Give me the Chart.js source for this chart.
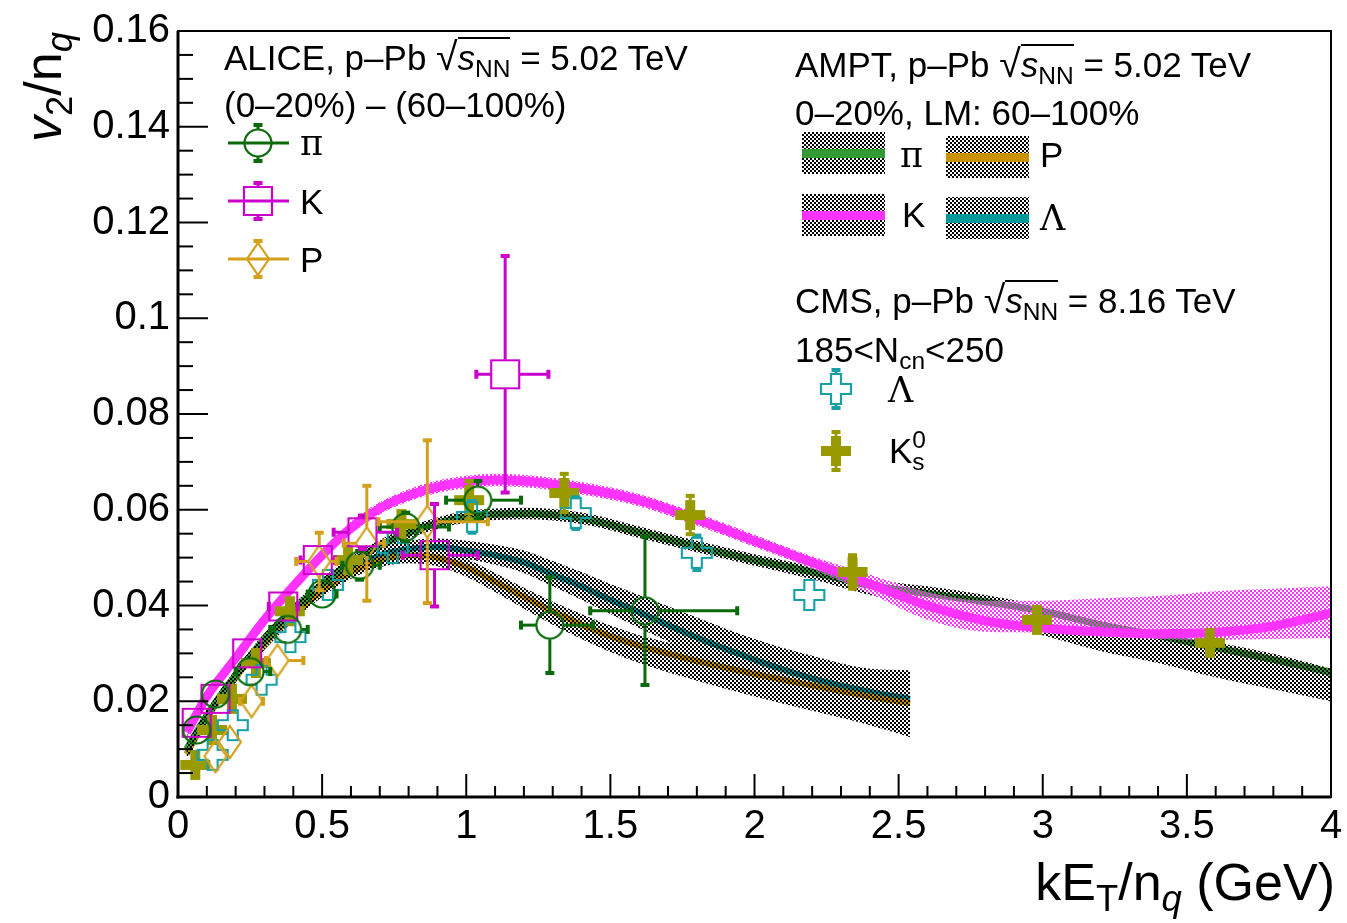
<!DOCTYPE html>
<html>
<head>
<meta charset="utf-8">
<script src="https://cdn.jsdelivr.net/npm/chart.js@4.4.0/dist/chart.umd.min.js"></script>
<style>
  html, body { margin: 0; padding: 0; background: #fff; }
  #wrap { position: relative; width: 1347px; height: 923px; font-family: "Liberation Sans", Arial, sans-serif; color: #000; }
  #wrap canvas { position: absolute; left: 0; top: 0; }
  .t { position: absolute; white-space: nowrap; font-size: 35px; line-height: 50px; }
  .sub { font-size: 0.7em; position: relative; top: 0.3em; line-height: 1; }
  .sup { font-size: 0.7em; position: relative; top: -0.6em; line-height: 1; }
  .gr { font-family: "DejaVu Serif", "Liberation Serif", serif; }
  .root { font-size: 1.12em; line-height: 1; font-family: "DejaVu Sans", sans-serif; font-weight: 200; }
  .rad { display: inline-block; border-top: 2px solid #000; line-height: 1; padding-top: 1px; }
  .big { font-size: 52px; line-height: 70px; }
</style>
</head>
<body>
<div id="wrap">
  <canvas id="c" width="1347" height="923"></canvas>

  <div class="t big" style="left:8px; top:142px; transform-origin:0 0; transform:rotate(-90deg);"><i>v</i><span class="sub">2</span>/n<span class="sub"><i>q</i></span></div>
  <div class="t big" style="right:12px; top:847px;">kE<span class="sub">T</span>/n<span class="sub"><i>q</i></span> (GeV)</div>

  <div class="t" style="left:224px; top:33px;">ALICE, p–Pb <span class="root">√</span><span class="rad"><i>s</i><span class="sub">NN</span></span> = 5.02 TeV</div>
  <div class="t" style="left:224px; top:80px;">(0–20%) – (60–100%)</div>
  <div class="t gr" style="left:300px; top:118px;">π</div>
  <div class="t" style="left:300px; top:177px;">K</div>
  <div class="t" style="left:300px; top:235px;">P</div>

  <div class="t" style="left:795px; top:40px;">AMPT, p–Pb <span class="root">√</span><span class="rad"><i>s</i><span class="sub">NN</span></span> = 5.02 TeV</div>
  <div class="t" style="left:795px; top:88px;">0–20%, LM: 60–100%</div>
  <div class="t gr" style="left:900px; top:130px;">π</div>
  <div class="t" style="left:1040px; top:130px;">P</div>
  <div class="t" style="left:902px; top:190px;">K</div>
  <div class="t gr" style="left:1040px; top:193px;">Λ</div>

  <div class="t" style="left:795px; top:276px;">CMS, p–Pb <span class="root">√</span><span class="rad"><i>s</i><span class="sub">NN</span></span> = 8.16 TeV</div>
  <div class="t" style="left:795px; top:325px;">185&lt;N<span class="sub">cn</span>&lt;250</div>
  <div class="t gr" style="left:888px; top:365px;">Λ</div>
  <div class="t" style="left:889px; top:426px;">K<span class="sup">0</span><span class="sub" style="margin-left:-0.56em">s</span></div>
</div>

<script>
// ALICE p-Pb, (0-20%) - (60-100%)
const aliPiX   = [0.065, 0.13, 0.25, 0.38, 0.50, 0.63, 0.79, 1.04, 1.29, 1.62];
const aliPiY   = [0.0140, 0.0215, 0.0262, 0.0350, 0.0424, 0.0484, 0.0564, 0.0620, 0.0359, 0.0389];
const aliPiErr = [0.0015, 0.0015, 0.0018, 0.0020, 0.0022, 0.0030, 0.0030, 0.0040, 0.0100, 0.0155];
const aliPiXlo = [0.02, 0.02, 0.05, 0.06, 0.05, 0.06, 0.09, 0.11, 0.10, 0.19];
const aliPiXhi = [0.02, 0.02, 0.07, 0.07, 0.05, 0.07, 0.15, 0.15, 0.15, 0.32];

const aliKX   = [0.065, 0.13, 0.24, 0.365, 0.485, 0.64, 0.89, 1.135];
const aliKY   = [0.0155, 0.0205, 0.0300, 0.0398, 0.0495, 0.0553, 0.0505, 0.0883];
const aliKErr = [0.0015, 0.0015, 0.0018, 0.0020, 0.0025, 0.0035, 0.0107, 0.0247];
const aliKXlo = [0.02, 0.03, 0.04, 0.05, 0.06, 0.10, 0.11, 0.10];
const aliKXhi = [0.02, 0.03, 0.04, 0.05, 0.06, 0.12, 0.15, 0.15];

const aliPX   = [0.13, 0.18, 0.255, 0.345, 0.49, 0.655, 0.865];
const aliPY   = [0.0085, 0.0115, 0.0200, 0.0285, 0.0492, 0.0530, 0.0575];
const aliPErr = [0.0020, 0.0020, 0.0025, 0.0030, 0.0060, 0.0120, 0.0170];
const aliPXlo = [0.03, 0.03, 0.04, 0.04, 0.08, 0.08, 0.17];
const aliPXhi = [0.03, 0.03, 0.04, 0.09, 0.06, 0.06, 0.21];

// CMS p-Pb 8.16 TeV, 185 < Ncn < 250
const cmsLamX   = [0.12, 0.19, 0.29, 0.39, 0.52, 0.745, 1.02, 1.38, 1.80, 2.19];
const cmsLamY   = [0.0088, 0.0150, 0.0245, 0.0334, 0.0443, 0.0520, 0.0585, 0.0593, 0.0510, 0.0422];
const cmsLamErr = [0.0010, 0.0010, 0.0012, 0.0015, 0.0020, 0.0025, 0.0033, 0.0033, 0.0036, 0.0020];

const cmsKsX   = [0.06, 0.118, 0.187, 0.27, 0.388, 0.59, 0.775, 1.01, 1.34, 1.777, 2.34, 2.98, 3.58];
const cmsKsY   = [0.0067, 0.0140, 0.0205, 0.0280, 0.0388, 0.0495, 0.0570, 0.0620, 0.0635, 0.0589, 0.0470, 0.0370, 0.0322];
const cmsKsErr = [0.0010, 0.0010, 0.0012, 0.0014, 0.0016, 0.0020, 0.0030, 0.0040, 0.0040, 0.0040, 0.0035, 0.0020, 0.0020];

// AMPT curves with their bands
const amptPiX  = [0.03, 0.1, 0.2, 0.3, 0.4, 0.5, 0.6, 0.7, 0.8, 0.9, 1.0, 1.2, 1.4, 1.6, 1.8, 2.0, 2.2, 2.4, 2.6, 2.8, 3.0, 3.2, 3.4, 3.6, 3.8, 4.0];
const amptPiY  = [0.0100, 0.0170, 0.0255, 0.0330, 0.0390, 0.0445, 0.0490, 0.0525, 0.0552, 0.0572, 0.0585, 0.0592, 0.0582, 0.0553, 0.0523, 0.0495, 0.0470, 0.0442, 0.0425, 0.0408, 0.0388, 0.0360, 0.0337, 0.0312, 0.0287, 0.0260];
const amptPiLo = [0.0088, 0.0158, 0.0243, 0.0318, 0.0378, 0.0433, 0.0478, 0.0513, 0.0540, 0.0560, 0.0573, 0.0580, 0.0570, 0.0541, 0.0511, 0.0483, 0.0455, 0.0422, 0.0395, 0.0370, 0.0338, 0.0305, 0.0280, 0.0250, 0.0225, 0.0200];
const amptPiHi = [0.0112, 0.0182, 0.0267, 0.0342, 0.0402, 0.0457, 0.0502, 0.0537, 0.0564, 0.0584, 0.0597, 0.0604, 0.0594, 0.0565, 0.0535, 0.0507, 0.0482, 0.0455, 0.0440, 0.0422, 0.0400, 0.0372, 0.0349, 0.0324, 0.0299, 0.0268];

const amptKX  = [0.03, 0.1, 0.2, 0.3, 0.4, 0.5, 0.6, 0.7, 0.8, 0.9, 1.0, 1.1, 1.2, 1.4, 1.6, 1.8, 2.0, 2.2, 2.4, 2.6, 2.8, 3.0, 3.2, 3.4, 3.6, 3.8, 4.0];
const amptKY  = [0.0135, 0.0210, 0.0290, 0.0370, 0.0440, 0.0505, 0.0562, 0.0603, 0.0630, 0.0648, 0.0658, 0.0662, 0.0660, 0.0645, 0.0620, 0.0580, 0.0535, 0.0490, 0.0445, 0.0400, 0.0368, 0.0353, 0.0345, 0.0341, 0.0344, 0.0357, 0.0384];
const amptKLo = [0.0122, 0.0197, 0.0277, 0.0357, 0.0427, 0.0492, 0.0549, 0.0590, 0.0617, 0.0635, 0.0645, 0.0649, 0.0647, 0.0632, 0.0607, 0.0567, 0.0522, 0.0477, 0.0425, 0.0370, 0.0345, 0.0343, 0.0335, 0.0330, 0.0328, 0.0330, 0.0332];
const amptKHi = [0.0148, 0.0223, 0.0303, 0.0383, 0.0453, 0.0518, 0.0575, 0.0616, 0.0643, 0.0661, 0.0671, 0.0675, 0.0673, 0.0658, 0.0633, 0.0593, 0.0548, 0.0503, 0.0465, 0.0428, 0.0410, 0.0410, 0.0415, 0.0420, 0.0430, 0.0435, 0.0440];

const amptBaryX = [0.03, 0.1, 0.2, 0.3, 0.4, 0.5, 0.6, 0.7, 0.8, 0.9, 1.0, 1.1, 1.2, 1.3, 1.4, 1.5, 1.6, 1.8, 2.0, 2.2, 2.4, 2.54];
const amptPY    = [0.0090, 0.0165, 0.0250, 0.0320, 0.0380, 0.0430, 0.0470, 0.0495, 0.0505, 0.0500, 0.0480, 0.0450, 0.0418, 0.0388, 0.0360, 0.0336, 0.0316, 0.0284, 0.0257, 0.0233, 0.0210, 0.0196];
const amptPLo   = [0.0080, 0.0155, 0.0240, 0.0308, 0.0368, 0.0418, 0.0456, 0.0480, 0.0488, 0.0482, 0.0460, 0.0428, 0.0393, 0.0360, 0.0330, 0.0303, 0.0280, 0.0243, 0.0210, 0.0180, 0.0150, 0.0125];
const amptPHi   = [0.0100, 0.0175, 0.0260, 0.0332, 0.0392, 0.0442, 0.0484, 0.0510, 0.0520, 0.0516, 0.0497, 0.0468, 0.0437, 0.0408, 0.0382, 0.0358, 0.0338, 0.0310, 0.0285, 0.0262, 0.0240, 0.0228];
const amptLamY  = [0.0090, 0.0165, 0.0250, 0.0320, 0.0380, 0.0435, 0.0475, 0.0505, 0.0518, 0.0522, 0.0515, 0.0505, 0.0490, 0.0465, 0.0440, 0.0412, 0.0386, 0.0333, 0.0287, 0.0248, 0.0220, 0.0205];
const amptLamLo = [0.0080, 0.0155, 0.0240, 0.0308, 0.0368, 0.0422, 0.0462, 0.0490, 0.0502, 0.0505, 0.0497, 0.0485, 0.0468, 0.0440, 0.0412, 0.0382, 0.0353, 0.0298, 0.0250, 0.0210, 0.0180, 0.0165];
const amptLamHi = [0.0100, 0.0175, 0.0260, 0.0332, 0.0392, 0.0448, 0.0490, 0.0520, 0.0535, 0.0540, 0.0535, 0.0527, 0.0515, 0.0493, 0.0470, 0.0445, 0.0422, 0.0375, 0.0330, 0.0295, 0.0268, 0.0265];

// axis ranges and tick steps
const xMax = 4, xStep = 0.5, xMinor = 0.1;
const yMax = 0.16, yStep = 0.02, yMinor = 0.005;

const C = {
  aliPi: '#0a6a0a', aliK: '#cc00cc', aliP: '#d4a01c',
  cmsLam: '#18a0a5', cmsKs: '#999900',
  pi: '#339933', k: '#ff33ff', p: '#c99200', lam: '#009999'
};

function pts(xs, ys) { return xs.map((x, i) => ({ x: x, y: ys[i] })); }

function checker(color) {
  const c = document.createElement('canvas');
  c.width = 4; c.height = 4;
  const g = c.getContext('2d');
  g.fillStyle = color;
  g.fillRect(0, 0, 2, 2);
  g.fillRect(2, 2, 2, 2);
  return g.createPattern(c, 'repeat');
}

function marker(kind, color) {
  const c = document.createElement('canvas');
  c.width = 36; c.height = 36;
  const g = c.getContext('2d');
  const m = 18;
  g.strokeStyle = color; g.fillStyle = color; g.lineWidth = 2.2;
  g.beginPath();
  if (kind === 'circle') {
    g.arc(m, m, 13.5, 0, Math.PI * 2);
  } else if (kind === 'square') {
    g.rect(m - 14, m - 14, 28, 28);
  } else if (kind === 'diamond') {
    g.moveTo(m, m - 16); g.lineTo(m + 11, m); g.lineTo(m, m + 16); g.lineTo(m - 11, m); g.closePath();
  } else {
    const a = 15, b = 5;
    const p = [[-b,-a],[b,-a],[b,-b],[a,-b],[a,b],[b,b],[b,a],[-b,a],[-b,b],[-a,b],[-a,-b],[-b,-b]];
    p.forEach((q, i) => i ? g.lineTo(m + q[0], m + q[1]) : g.moveTo(m + q[0], m + q[1]));
    g.closePath();
  }
  if (kind === 'plusFilled') g.fill(); else g.stroke();
  return c;
}

const mk = {
  aliPi: marker('circle', C.aliPi),
  aliK: marker('square', C.aliK),
  aliP: marker('diamond', C.aliP),
  cmsLam: marker('plus', C.cmsLam),
  cmsKs: marker('plusFilled', C.cmsKs)
};

const blackChk = checker('#000');
const pinkChk = checker('#ff33ff');

// error bar sets: rx/ry = half size of the marker the bar stops at
const errSets = [
  { x: aliPiX, y: aliPiY, ey: aliPiErr, xl: aliPiXlo, xh: aliPiXhi, color: C.aliPi, rx: 14, ry: 14 },
  { x: aliKX, y: aliKY, ey: aliKErr, xl: aliKXlo, xh: aliKXhi, color: C.aliK, rx: 14, ry: 14 },
  { x: aliPX, y: aliPY, ey: aliPErr, xl: aliPXlo, xh: aliPXhi, color: C.aliP, rx: 11, ry: 16 },
  { x: cmsLamX, y: cmsLamY, ey: cmsLamErr, color: C.cmsLam, rx: 15, ry: 15 },
  { x: cmsKsX, y: cmsKsY, ey: cmsKsErr, color: C.cmsKs, rx: 15, ry: 15 }
];

function band(xs, lo, hi, pattern, order) {
  return [
    { data: pts(xs, lo), borderWidth: 0, pointRadius: 0, fill: false, cubicInterpolationMode: 'monotone', order: order },
    { data: pts(xs, hi), borderWidth: 0, pointRadius: 0, fill: '-1', backgroundColor: pattern, cubicInterpolationMode: 'monotone', order: order }
  ];
}
function curve(xs, ys, color, width, order) {
  return { data: pts(xs, ys), borderColor: color, borderWidth: width, pointRadius: 0, fill: false,
           cubicInterpolationMode: 'monotone', borderCapStyle: 'butt', order: order };
}
function markers(xs, ys, style) {
  return { data: pts(xs, ys), showLine: false, pointStyle: style, pointRadius: 15, order: 0 };
}

const datasets = [
  curve(amptPiX, amptPiY, C.pi, 7, 6),
  curve(amptBaryX, amptPY, C.p, 6, 6),
  curve(amptBaryX, amptLamY, C.lam, 6, 6),
  ...band(amptPiX, amptPiLo, amptPiHi, blackChk, 5),
  ...band(amptBaryX, amptPLo, amptPHi, blackChk, 5),
  ...band(amptBaryX, amptLamLo, amptLamHi, blackChk, 5),
  ...band(amptKX, amptKLo, amptKHi, pinkChk, 4),
  curve(amptKX, amptKY, C.k, 9, 3),
  markers(aliPiX, aliPiY, mk.aliPi),
  markers(aliKX, aliKY, mk.aliK),
  markers(aliPX, aliPY, mk.aliP),
  markers(cmsLamX, cmsLamY, mk.cmsLam),
  markers(cmsKsX, cmsKsY, mk.cmsKs)
];

function capV(ctx, x, y) { ctx.fillRect(x - 4.5, y - 2, 9, 4); }
function capH(ctx, x, y) { ctx.fillRect(x - 2, y - 4.5, 4, 9); }
function seg(ctx, x1, y1, x2, y2) { ctx.beginPath(); ctx.moveTo(x1, y1); ctx.lineTo(x2, y2); ctx.stroke(); }

const errorBars = {
  id: 'errorBars',
  afterDatasetsDraw(chart) {
    const ctx = chart.ctx, sx = chart.scales.x, sy = chart.scales.y;
    ctx.save();
    ctx.lineWidth = 3;
    errSets.forEach(s => {
      ctx.strokeStyle = s.color; ctx.fillStyle = s.color;
      s.x.forEach((xv, i) => {
        const px = sx.getPixelForValue(xv), py = sy.getPixelForValue(s.y[i]);
        const top = sy.getPixelForValue(s.y[i] + s.ey[i]);
        const bot = sy.getPixelForValue(s.y[i] - s.ey[i]);
        if (py - top > s.ry) { seg(ctx, px, top, px, py - s.ry); capV(ctx, px, top); }
        if (bot - py > s.ry) { seg(ctx, px, py + s.ry, px, bot); capV(ctx, px, bot); }
        if (s.xl) {
          const l = sx.getPixelForValue(xv - s.xl[i]), r = sx.getPixelForValue(xv + s.xh[i]);
          if (px - l > s.rx) { seg(ctx, l, py, px - s.rx, py); capH(ctx, l, py); }
          if (r - px > s.rx) { seg(ctx, px + s.rx, py, r, py); capH(ctx, r, py); }
        }
      });
    });
    ctx.restore();
  }
};

// frame, inward ticks and the legend symbols
const frame = {
  id: 'frame',
  afterDraw(chart) {
    const ctx = chart.ctx, a = chart.chartArea, sx = chart.scales.x, sy = chart.scales.y;
    ctx.save();
    ctx.strokeStyle = '#000';
    ctx.lineWidth = 2;
    const nx = Math.round(xMax / xMinor), per = Math.round(xStep / xMinor);
    for (let i = 1; i < nx; i++) {
      const px = sx.getPixelForValue(i * xMinor);
      seg(ctx, px, a.bottom, px, a.bottom - (i % per ? 11 : 23));
    }
    const ny = Math.round(yMax / yMinor), perY = Math.round(yStep / yMinor);
    for (let i = 1; i < ny; i++) {
      const py = sy.getPixelForValue(i * yMinor);
      seg(ctx, a.left, py, a.left + (i % perY ? 15 : 30), py);
    }
    ctx.lineWidth = 2;
    ctx.strokeRect(a.left, a.top, a.right - a.left, a.bottom - a.top);
    ctx.lineWidth = 3;
    seg(ctx, a.left, a.top, a.left, a.bottom + 1.5);
    seg(ctx, a.left - 1.5, a.bottom, a.right, a.bottom);

    // ALICE legend entries
    [[C.aliPi, mk.aliPi, 143], [C.aliK, mk.aliK, 201], [C.aliP, mk.aliP, 259]].forEach(e => {
      ctx.strokeStyle = e[0]; ctx.fillStyle = e[0]; ctx.lineWidth = 3;
      seg(ctx, 228, e[2], 289, e[2]);
      ctx.drawImage(e[1], 258 - 18, e[2] - 18);
      seg(ctx, 258, e[2] - 18, 258, e[2] - 14); capV(ctx, 258, e[2] - 18);
      seg(ctx, 258, e[2] + 14, 258, e[2] + 18); capV(ctx, 258, e[2] + 18);
    });

    // AMPT legend boxes
    [[802, 132, C.pi], [946, 136, C.p], [802, 194, C.k], [946, 197, C.lam]].forEach(b => {
      ctx.fillStyle = blackChk;
      ctx.fillRect(b[0], b[1], 83, 42);
      ctx.fillStyle = b[2];
      ctx.fillRect(b[0], b[1] + 17, 83, 9);
    });

    // CMS legend entries
    [[C.cmsLam, mk.cmsLam, 389], [C.cmsKs, mk.cmsKs, 451]].forEach(e => {
      ctx.strokeStyle = e[0]; ctx.fillStyle = e[0]; ctx.lineWidth = 3;
      ctx.drawImage(e[1], 836 - 18, e[2] - 18);
      seg(ctx, 836, e[2] - 19, 836, e[2] - 15); capV(ctx, 836, e[2] - 19);
      seg(ctx, 836, e[2] + 15, 836, e[2] + 19); capV(ctx, 836, e[2] + 19);
    });
    ctx.restore();
  }
};

Chart.defaults.font.family = '"Liberation Sans", Arial, sans-serif';
Chart.defaults.color = '#000';

new Chart(document.getElementById('c'), {
  type: 'line',
  data: { datasets: datasets },
  options: {
    responsive: false,
    devicePixelRatio: 1,
    animation: false,
    layout: { padding: { top: 31, right: 14, left: 0, bottom: 0 } },
    plugins: { legend: { display: false }, tooltip: { enabled: false } },
    scales: {
      x: {
        type: 'linear', min: 0, max: xMax,
        ticks: { stepSize: xStep, font: { size: 40 }, color: '#000', padding: 6, maxRotation: 0, autoSkip: false,
                 callback: v => String(+v.toFixed(1)) },
        grid: { display: false, drawTicks: false },
        border: { display: false },
        afterFit(s) { s.height = 126; s.paddingLeft = 0; s.paddingRight = 0; }
      },
      y: {
        min: 0, max: yMax,
        ticks: { stepSize: yStep, font: { size: 40 }, color: '#000', padding: 8, callback: v => String(+v.toFixed(2)) },
        grid: { display: false, drawTicks: false },
        border: { display: false },
        afterFit(s) { s.width = 178; s.paddingTop = 0; s.paddingBottom = 0; }
      }
    }
  },
  plugins: [errorBars, frame]
});
</script>
</body>
</html>
